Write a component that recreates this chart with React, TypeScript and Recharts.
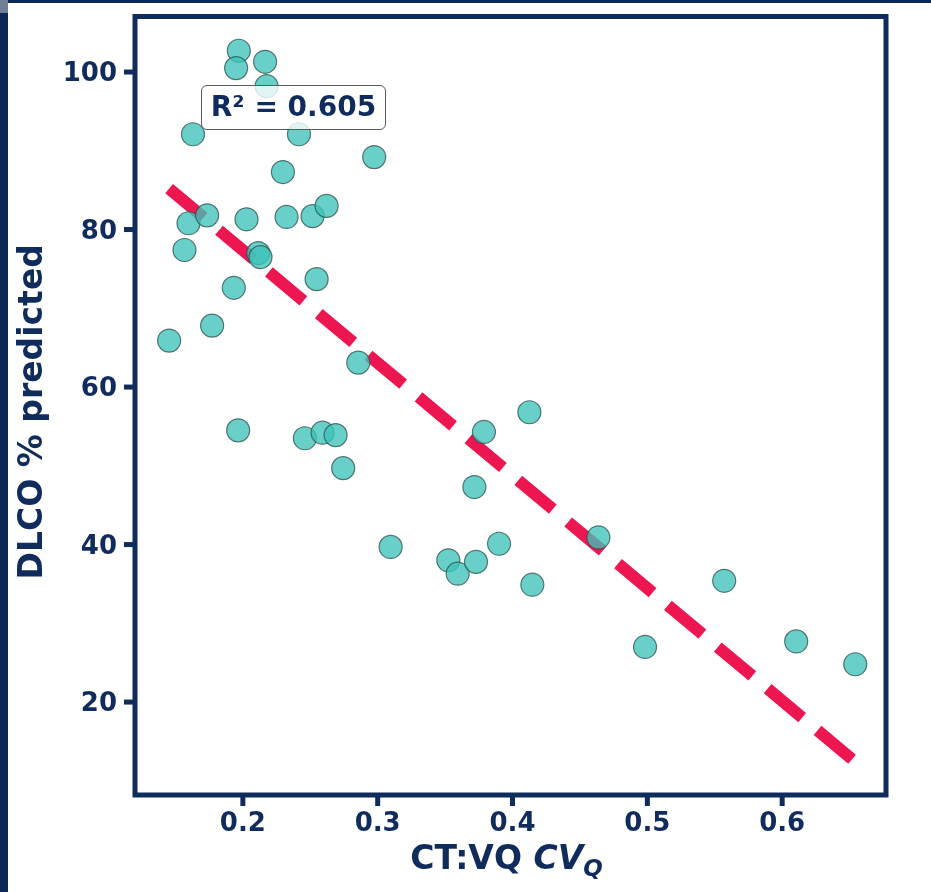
import React from 'react';
import { ScatterChart, Scatter, XAxis, YAxis, ReferenceArea } from 'recharts';

const cvQ = [
  0.197, 0.195, 0.2165, 0.2176, 0.163, 0.2416, 0.2974, 0.2297, 0.1597, 0.1735,
  0.2027, 0.2324, 0.2517, 0.2621, 0.1567, 0.2114, 0.2131, 0.1933, 0.2547, 0.1772,
  0.1453, 0.246, 0.2591, 0.2688, 0.2744, 0.3788, 0.4125, 0.3717, 0.4637, 0.3096,
  0.3524, 0.3593, 0.3729, 0.39, 0.4147, 0.2856, 0.1965, 0.4983, 0.557, 0.6104, 0.6542,
];
const dlcoPct = [
  102.7, 100.5, 101.3, 98.2, 92.1, 92.1, 89.2, 87.3, 80.8, 81.8,
  81.3, 81.6, 81.7, 83.0, 77.4, 77.0, 76.5, 72.6, 73.7, 67.8,
  65.9, 53.5, 54.2, 53.9, 49.7, 54.3, 56.8, 47.3, 40.9, 39.7,
  38.0, 36.3, 37.8, 40.1, 34.9, 63.1, 54.5, 27.0, 35.4, 27.7, 24.8,
];
const fitX = [0.1453, 0.6542];
const fitY = [85.2, 12.4];
const xTicks = [0.2, 0.3, 0.4, 0.5, 0.6];
const yTicks = [20, 40, 60, 80, 100];
const xDomain = [0.12, 0.677];
const yDomain = [8.2, 107.05];
const r2Text = 'R² = 0.605';

const points = cvQ.map((x, i) => ({ x, y: dlcoPct[i] }));
const fitLine = fitX.map((x, i) => ({ x, y: fitY[i] }));

const NAVY = '#0f2c5c';
const FONT = '"DejaVu Sans", sans-serif';

const Dot = (props: any) => (
  <circle
    cx={props.cx}
    cy={props.cy}
    r={11.5}
    fill="#3ec3b8"
    fillOpacity={0.78}
    stroke="#2a4f4c"
    strokeOpacity={0.75}
    strokeWidth={1.2}
  />
);

const NoDot = () => <g />;

const XLabel = (props: any) => {
  const vb = props.viewBox || { x: 127, y: 787, width: 751, height: 89 };
  const cx = vb.x + vb.width / 2 - 4;
  return (
    <text
      x={cx}
      y={861}
      textAnchor="middle"
      fill={NAVY}
      fontFamily={FONT}
      fontWeight="bold"
      fontSize={33}
    >
      <tspan>CT:VQ </tspan>
      <tspan fontStyle="italic">CV</tspan>
      <tspan fontStyle="italic" fontSize={23} dy={7}>Q</tspan>
    </text>
  );
};

const YLabel = (props: any) => {
  const vb = props.viewBox || { x: 0, y: 8.5, width: 127, height: 778.5 };
  const cy = vb.y + vb.height / 2 + 6;
  const x = 34;
  return (
    <text
      x={x}
      y={cy}
      transform={`rotate(-90, ${x}, ${cy})`}
      textAnchor="middle"
      fill={NAVY}
      fontFamily={FONT}
      fontWeight="bold"
      fontSize={33}
    >
      DLCO % predicted
    </text>
  );
};

const tickStyle = { fill: NAVY, fontSize: 26, fontWeight: 'bold', fontFamily: FONT };

export default function App() {
  return (
    <div style={{ position: 'relative', width: 915, height: 876 }}>
      <div style={{ position: 'fixed', left: 0, top: 0, width: 8, height: 892, background: '#0b2856' }} />
      <div style={{ position: 'fixed', left: 0, top: 0, width: 931, height: 3, background: '#0b2856' }} />
      <div style={{ position: 'fixed', left: 0, top: 0, width: 8, height: 13, background: '#6f7f98' }} />
      <ScatterChart width={915} height={876} margin={{ top: 8.5, right: 37, bottom: 0, left: 0 }}>
        <XAxis
          type="number"
          dataKey="x"
          domain={xDomain}
          ticks={xTicks}
          interval={0}
          allowDataOverflow
          height={89}
          axisLine={false}
          tickSize={11}
          tickMargin={7}
          tickLine={{ stroke: NAVY, strokeWidth: 5 }}
          tick={tickStyle}
          tickFormatter={(v: number) => v.toFixed(1)}
          label={{ content: XLabel }}
        />
        <YAxis
          type="number"
          dataKey="y"
          domain={yDomain}
          ticks={yTicks}
          interval={0}
          allowDataOverflow
          width={127}
          axisLine={false}
          tickSize={11}
          tickMargin={7}
          tickLine={{ stroke: NAVY, strokeWidth: 5 }}
          tick={tickStyle}
          label={{ content: YLabel }}
        />
        <ReferenceArea
          x1={xDomain[0]}
          x2={xDomain[1]}
          y1={yDomain[0]}
          y2={yDomain[1]}
          fill="none"
          stroke={NAVY}
          strokeWidth={5}
          ifOverflow="visible"
        />
        <Scatter
          data={fitLine}
          line={{ stroke: '#ee1651', strokeWidth: 12, strokeDasharray: '45 20' }}
          shape={NoDot}
          isAnimationActive={false}
        />
        <Scatter data={points} shape={Dot} isAnimationActive={false} />
      </ScatterChart>
      <div
        style={{
          position: 'absolute',
          left: 193,
          top: 77,
          width: 185,
          height: 45,
          boxSizing: 'border-box',
          border: '1.5px solid #5a5a5a',
          borderRadius: 6,
          background: 'rgba(255,255,255,0.8)',
          color: NAVY,
          fontFamily: FONT,
          fontWeight: 'bold',
          fontSize: 28,
          lineHeight: '42px',
          textAlign: 'center',
          whiteSpace: 'nowrap',
        }}
      >
        {r2Text}
      </div>
    </div>
  );
}
